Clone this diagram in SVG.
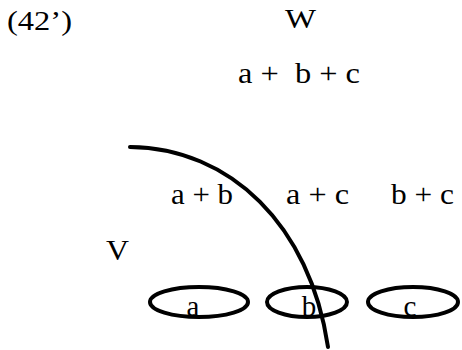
<svg xmlns="http://www.w3.org/2000/svg" width="462" height="350" viewBox="0 0 462 350">
<style>
text{font-family:"Liberation Serif","Times New Roman",serif;font-size:29px;fill:#000;white-space:pre}
.e{fill:none;stroke:#000;stroke-width:4}
.c{fill:none;stroke:#000;stroke-width:4;stroke-linecap:round}
</style>
<rect width="462" height="350" fill="#fff"/>
<text x="7" y="30" style="font-size:28px" textLength="65" lengthAdjust="spacingAndGlyphs">(42’)</text>
<g id="W"><text x="285" y="28" style="font-size:27px" textLength="31" lengthAdjust="spacingAndGlyphs">W</text></g>
<g id="abc"><text x="238" y="83" textLength="122" lengthAdjust="spacingAndGlyphs">a +  b + c</text></g>
<g id="ab"><text x="171" y="204" textLength="62" lengthAdjust="spacingAndGlyphs">a + b</text></g>
<g id="ac"><text x="286" y="204" textLength="63" lengthAdjust="spacingAndGlyphs">a + c</text></g>
<g id="bc"><text x="391" y="204" textLength="63" lengthAdjust="spacingAndGlyphs">b + c</text></g>
<g id="V"><text x="106" y="260" textLength="23" lengthAdjust="spacingAndGlyphs">V</text></g>
<g id="a"><ellipse class="e" cx="199" cy="302" rx="49" ry="15"/><text x="193" y="316" text-anchor="middle">a</text></g>
<g id="b"><ellipse class="e" cx="307" cy="302" rx="40" ry="15"/><text x="309" y="316" text-anchor="middle">b</text></g>
<g id="c"><ellipse class="e" cx="413" cy="302" rx="45" ry="15"/><text x="410" y="316" text-anchor="middle">c</text></g>
<g id="connectors"><path class="c" d="M130,147 C230,148 310,225 328,347"/></g>
</svg>
